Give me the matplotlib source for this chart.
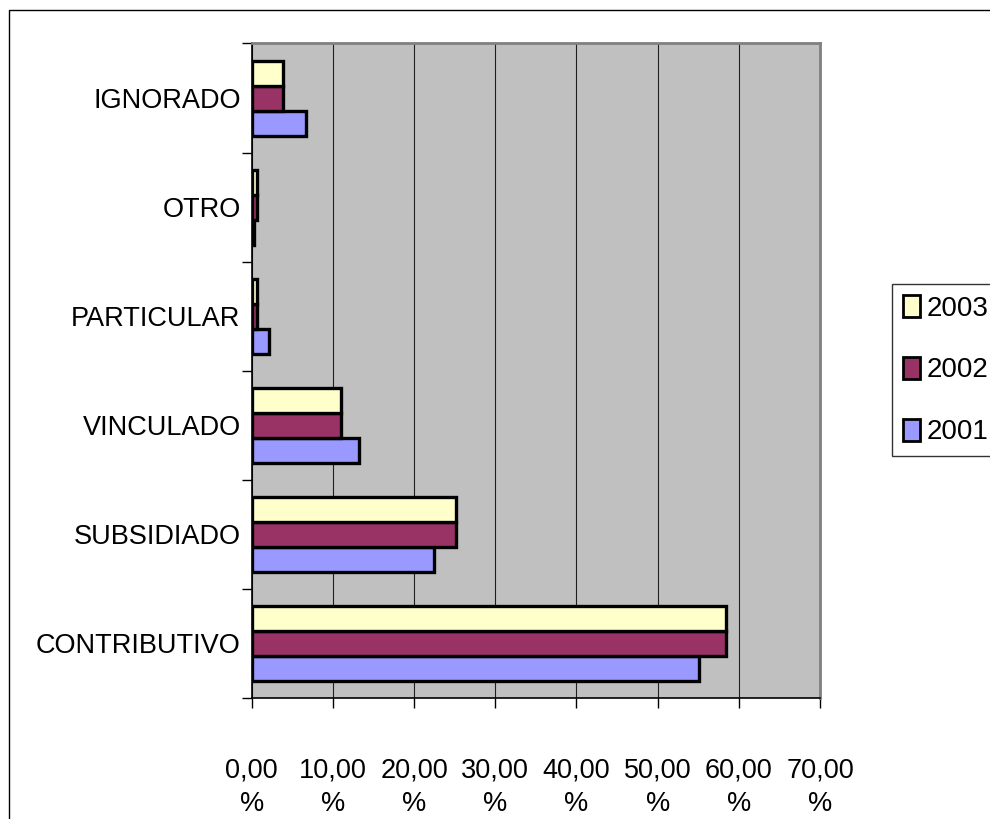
import matplotlib
matplotlib.use("Agg")
import numpy as np
import matplotlib.pyplot as plt
from matplotlib.patches import Rectangle, Patch
from matplotlib.ticker import FixedLocator

plt.rcParams['font.family'] = ['Liberation Sans', 'DejaVu Sans']

categorias = ["CONTRIBUTIVO", "SUBSIDIADO", "VINCULADO", "PARTICULAR", "OTRO", "IGNORADO"]
anios = ["2001", "2002", "2003"]
v2001 = [55.1, 22.5, 13.2, 2.1, 0.3, 6.7]
v2002 = [58.4, 25.2, 11.0, 0.6, 0.6, 3.9]
v2003 = [58.4, 25.2, 11.0, 0.7, 0.6, 3.9]
xticks = [0, 10, 20, 30, 40, 50, 60, 70]

colores = {"2001": "#9999FF", "2002": "#993366", "2003": "#FFFFCC"}

fig = plt.figure(figsize=(9.9, 8.19), dpi=100)
ax = fig.add_axes([0.2542, 0.1477, 0.5741, 0.7992])
ax.set_facecolor("#C0C0C0")

y = np.arange(len(categorias))
h = 0.229
for off, anio, vals in [(-h, "2001", v2001), (0, "2002", v2002), (h, "2003", v2003)]:
    ax.barh(y + off, vals, height=h, color=colores[anio], edgecolor="black",
            linewidth=2.4, label=anio, zorder=3)

ax.set_xlim(0, 70)
ax.set_ylim(-0.5, len(categorias) - 0.5)
ax.set_xticks(xticks)
ax.set_xticklabels(["%d,00\n%%" % t for t in xticks], fontsize=19.5, linespacing=1.35)
ax.set_yticks(y)
ax.set_yticklabels(categorias, fontsize=19.5)
ax.yaxis.set_minor_locator(FixedLocator(np.arange(-0.5, len(categorias), 1.0)))
ax.tick_params(axis="y", which="major", length=0, pad=8)
ax.tick_params(axis="y", which="minor", length=7, width=1, direction="out")
ax.tick_params(axis="x", length=7, width=1, direction="out", pad=36)
ax.xaxis.grid(True, color="#202020", linewidth=0.8, zorder=1)
ax.set_axisbelow(True)

for s in ["top", "right"]:
    ax.spines[s].set_color("#808080")
    ax.spines[s].set_linewidth(2)
for s in ["left", "bottom"]:
    ax.spines[s].set_color("black")
    ax.spines[s].set_linewidth(1.2)

handles = [Patch(facecolor=colores[a], edgecolor="black", linewidth=2) for a in ["2003", "2002", "2001"]]
leg = fig.legend(handles, ["2003", "2002", "2001"], loc="upper left",
                 bbox_to_anchor=(892 / 990, 1 - 284 / 819), fontsize=20,
                 frameon=True, fancybox=False, edgecolor="black",
                 handlelength=0.61, handleheight=0.83, handletextpad=0.25,
                 labelspacing=1.27, borderpad=0.4, borderaxespad=0)
leg.get_frame().set_linewidth(1)

fig.patches.append(Rectangle((9 / 990, -0.05), 1.05, 1.05 - 10 / 819,
                             transform=fig.transFigure, fill=False,
                             edgecolor="black", linewidth=1))

fig.savefig("out.png", dpi=100, facecolor="white")
